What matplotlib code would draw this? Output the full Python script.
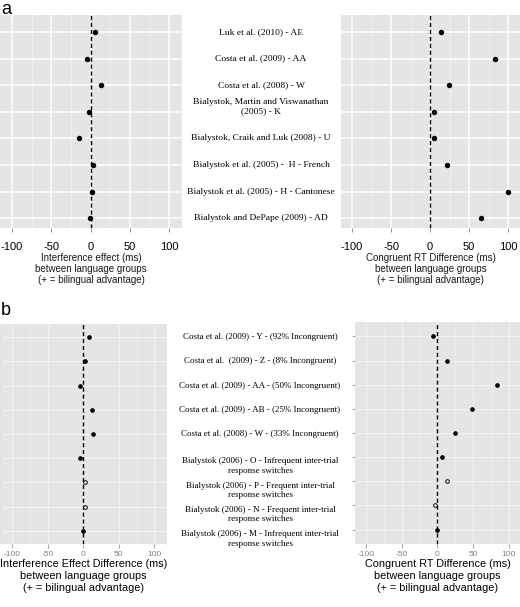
import matplotlib
matplotlib.use('Agg')
import matplotlib.pyplot as plt
import numpy as np

plt.rcParams['axes.unicode_minus'] = False

# ── Data ─────────────────────────────────────────────────────────────
labels_a = [
    "Luk et al. (2010) - AE",
    "Costa et al. (2009) - AA",
    "Costa et al. (2008) - W",
    "Bialystok, Martin and Viswanathan\n(2005) - K",
    "Bialystok, Craik and Luk (2008) - U",
    "Bialystok et al. (2005) -  H - French",
    "Bialystok et al. (2005) - H - Cantonese",
    "Bialystok and DePape (2009) - AD",
]
interference_a = [6, -4.5, 13, -2.5, -15, 2.5, 1.5, -1]
congruent_a = [14, 83, 24, 5, 5, 22, 100, 65]

labels_b = [
    "Costa et al. (2009) - Y - (92% Incongruent)",
    "Costa et al.  (2009) - Z - (8% Incongruent)",
    "Costa et al. (2009) - AA - (50% Incongruent)",
    "Costa et al. (2009) - AB - (25% Incongruent)",
    "Costa et al. (2008) - W - (33% Incongruent)",
    "Bialystok (2006) - O - Infrequent inter-trial\nresponse switches",
    "Bialystok (2006) - P - Frequent inter-trial\nresponse switches",
    "Bialystok (2006) - N - Frequent inter-trial\nresponse switches",
    "Bialystok (2006) - M - Infrequent inter-trial\nresponse switches",
]
interference_b = [8.5, 2, -4, 12, 14, -4, 3, 3, -1]
congruent_b = [-6.5, 13.5, 83, 49, 25, 6, 13, -3, 0]
open_b = [False, False, False, False, False, False, True, True, False]

xticks = [-100, -50, 0, 50, 100]
minor_ticks = [-75, -25, 25, 75]

W, H = 520, 607
fig = plt.figure(figsize=(W / 100, H / 100), dpi=100)
SANS = 'Liberation Sans'
SERIF = 'Liberation Serif'


def px_axes(x0, y0, x1, y1):
    return fig.add_axes([x0 / W, 1 - y1 / H, (x1 - x0) / W, (y1 - y0) / H])


def style_panel(ax, xlim, ylim, big, n):
    ax.set_facecolor('#E5E5E5')
    ax.set_xlim(*xlim)
    ax.set_ylim(*ylim)
    for s in ax.spines.values():
        s.set_visible(False)
    ax.set_xticks(xticks)
    ax.set_xticks(minor_ticks, minor=True)
    ax.set_yticks(range(n))
    ax.set_yticklabels([])
    if big:
        ax.grid(True, which='major', color='white', linewidth=1.1)
        ax.grid(True, which='minor', axis='x', color='#F2F2F2', linewidth=0.5)
        ax.tick_params(axis='x', which='major', length=3, width=0.6, color='#7F7F7F',
                       labelsize=8, labelcolor='black', pad=7)
        ax.tick_params(axis='y', length=0)
    else:
        ax.grid(True, which='major', color='#F5F5F5', linewidth=0.6)
        ax.grid(True, which='minor', axis='x', color='#F0F0F0', linewidth=0.4)
        ax.tick_params(axis='x', which='major', length=3, width=0.5, color='#7F7F7F',
                       labelsize=6, labelcolor='#7F7F7F', pad=2)
        ax.tick_params(axis='y', length=2, width=0.5, color='#7F7F7F')
    ax.tick_params(which='minor', length=0)
    ax.set_axisbelow(True)
    for lab in ax.get_xticklabels():
        lab.set_family(SANS)
    ax.axvline(0, color='black', linewidth=1.0, linestyle=(0, (3, 2)), zorder=2)


def draw_points(ax, vals, opens, ms):
    for i, v in enumerate(vals):
        hollow = opens[i] if opens else False
        ax.plot(v, i, 'o', ms=ms, mfc='white' if hollow else 'black', mec='black',
                mew=0.7, zorder=3)


# ── Panel a ──────────────────────────────────────────────────────────
na = len(labels_a)
ylim_a = (na - 1 + 0.37, -0.64)
ax1 = px_axes(0, 15, 182, 228)
style_panel(ax1, (-115, 116), ylim_a, True, na)
draw_points(ax1, interference_a, None, 3.2)
ax1.set_xlabel("Interference effect (ms)\nbetween language groups\n(+ = bilingual advantage)",
               family=SANS, fontsize=7, color='#1A1A1A', linespacing=1.1, labelpad=1)

ax2 = px_axes(341, 15, 520, 228)
style_panel(ax2, (-114, 115), ylim_a, True, na)
draw_points(ax2, congruent_a, None, 3.2)
ax2.set_xlabel("Congruent RT Difference (ms)\nbetween language groups\n(+ = bilingual advantage)",
               family=SANS, fontsize=7, color='#1A1A1A', linespacing=1.1, labelpad=1)

for i, lab in enumerate(labels_a):
    nl = lab.count('\n')
    ax1.annotate(lab, xy=(261 / W, i), xycoords=('figure fraction', 'data'),
                 xytext=(0, nl * 3.7), textcoords='offset points',
                 ha='center', va='center', family=SERIF, fontsize=6.8,
                 linespacing=1.25, annotation_clip=False)

fig.text(1 / W, 1 - 1 / H, 'a', family=SANS, fontsize=13, ha='left', va='top')

# ── Panel b ──────────────────────────────────────────────────────────
nb = len(labels_b)
ax3 = px_axes(0, 324, 167, 544)
style_panel(ax3, (-117.5, 118), (nb - 1 + 0.55, -0.55), False, nb)
draw_points(ax3, interference_b, open_b, 2.6)
ax3.set_xlabel("Interference Effect Difference (ms)\nbetween language groups\n(+ = bilingual advantage)",
               family=SANS, fontsize=7.8, color='black', linespacing=1.25, labelpad=1)

ax4 = px_axes(355, 322, 520, 544)
style_panel(ax4, (-115.8, 116), (nb - 1 + 0.6, -0.6), False, nb)
draw_points(ax4, congruent_b, open_b, 2.6)
ax4.set_xlabel("Congruent RT Difference (ms)\nbetween language groups\n(+ = bilingual advantage)",
               family=SANS, fontsize=7.8, color='black', linespacing=1.25, labelpad=1)

for i, lab in enumerate(labels_b):
    nl = lab.count('\n')
    ax3.annotate(lab, xy=(260 / W, i), xycoords=('figure fraction', 'data'),
                 xytext=(0, -nl * 5.8), textcoords='offset points',
                 ha='center', va='center', family=SERIF, fontsize=6.5,
                 linespacing=1.25, annotation_clip=False)

fig.text(1 / W, 1 - 302 / H, 'b', family=SANS, fontsize=13, ha='left', va='top')

fig.savefig('out.png', dpi=100)
